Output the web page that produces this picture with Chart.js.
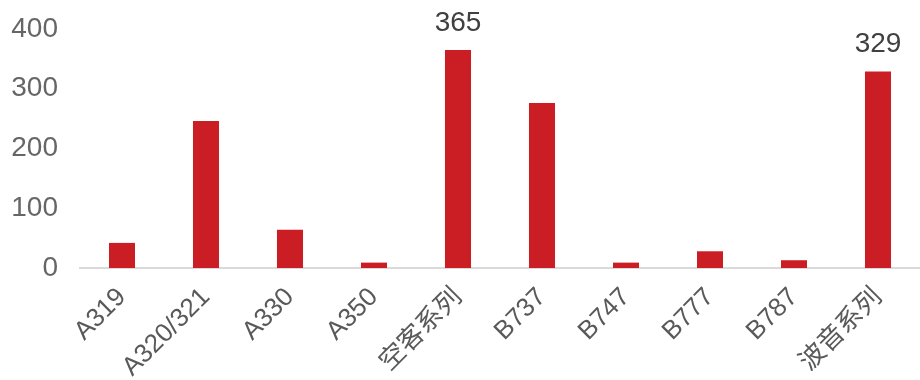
<!DOCTYPE html>
<html>
<head>
<meta charset="utf-8">
<script src="https://cdn.jsdelivr.net/npm/chart.js@4"></script>
<style>
  html, body { margin: 0; padding: 0; background: #fff; }
  #wrap { width: 920px; height: 380px; }
</style>
</head>
<body>
<div id="wrap"><canvas id="chart" width="920" height="380"></canvas></div>
<script>
const categories = ["A319", "A320/321", "A330", "A350", "空客系列", "B737", "B747", "B777", "B787", "波音系列"];
const fleet = [42, 246, 64, 9, 365, 276, 9, 28, 13, 329];
const labelled = [4, 9]; // only the two totals carry a value label
const yTicks = [0, 100, 200, 300, 400];

const FONT = "'Liberation Sans', 'Noto Sans CJK SC', sans-serif";

const valueLabels = {
  id: "valueLabels",
  afterDatasetsDraw(chart) {
    const ctx = chart.ctx;
    const meta = chart.getDatasetMeta(0);
    ctx.save();
    ctx.font = "28px " + FONT;
    ctx.fillStyle = "#404040";
    ctx.textAlign = "center";
    ctx.textBaseline = "alphabetic";
    for (const i of labelled) {
      const bar = meta.data[i];
      ctx.fillText(String(fleet[i]), bar.x, bar.y - 19);
    }
    ctx.restore();
  },
};

new Chart(document.getElementById("chart"), {
  type: "bar",
  data: {
    labels: categories,
    datasets: [{
      data: fleet,
      backgroundColor: "#CB1D24",
      borderWidth: 0,
      barPercentage: 0.31,
      categoryPercentage: 1,
    }],
  },
  options: {
    responsive: false,
    animation: false,
    layout: { padding: { top: 29, right: 0, left: 0, bottom: 0 } },
    plugins: { legend: { display: false }, tooltip: { enabled: false } },
    scales: {
      x: {
        grid: { display: false },
        border: { display: true, color: "#d9d9d9", width: 2 },
        ticks: {
          minRotation: 45,
          maxRotation: 45,
          color: "#595959",
          font: { family: FONT, size: 26 },
          padding: 6,
        },
        afterFit(scale) { scale.height = 112; },
      },
      y: {
        min: 0,
        max: 400,
        afterBuildTicks(scale) { scale.ticks = yTicks.map((v) => ({ value: v })); },
        grid: { display: false },
        border: { display: false },
        ticks: {
          color: "#666666",
          font: { family: FONT, size: 28 },
          padding: 14,
        },
        afterFit(scale) {
          scale.width = 80;
          scale.paddingTop = 0;
        },
      },
    },
  },
  plugins: [valueLabels],
});
</script>
</body>
</html>
